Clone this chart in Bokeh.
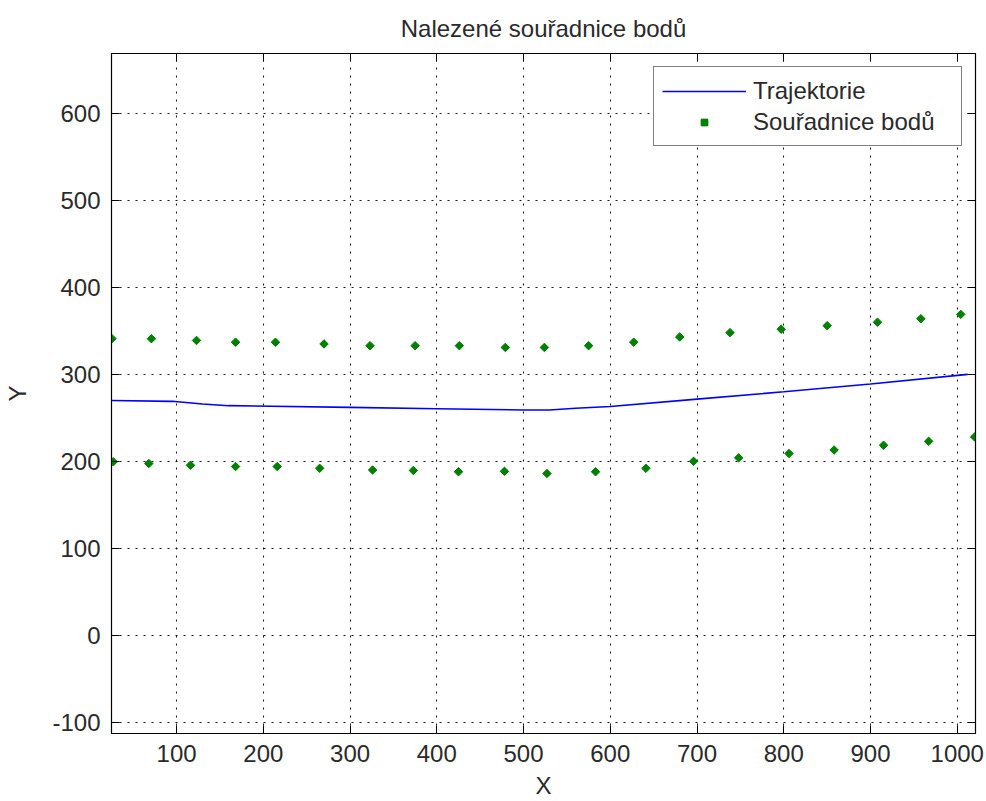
import math
from bokeh.plotting import figure
from bokeh.models import (Range1d, LinearAxis, FixedTicker, Legend, LegendItem,
                          PrintfTickFormatter)
from bokeh.embed import file_html
from bokeh.resources import INLINE

# Trajectory (blue line)
traj_x = [25, 95, 130, 160, 300, 400, 500, 530, 560, 600, 700, 800, 900, 1012]
traj_y = [270, 269, 266, 264, 262, 260.5, 259, 259, 261, 263, 271.5, 280, 289, 300]

# Detected point coordinates, upper row
upper_x = [25.6, 71, 123, 168, 214, 270, 323, 375, 426, 479, 524, 575, 627, 680, 738, 797, 850, 908, 958, 1004]
upper_y = [341, 341, 339, 337, 337, 335, 333, 333, 333, 331, 331, 333, 337, 343, 348, 352, 356, 360, 364, 369]

# Detected point coordinates, lower row
lower_x = [27, 68, 116, 168, 216, 265, 326, 373, 425, 478, 527, 583, 641, 696, 748, 806, 858, 915, 967, 1020]
lower_y = [199.5, 197.5, 195.5, 194, 194, 192, 190, 189.5, 188, 188.5, 186, 188, 192, 200, 204, 209, 213, 218.5, 223, 228]

x_ticks = [100, 200, 300, 400, 500, 600, 700, 800, 900, 1000]
y_ticks = [-100, 0, 100, 200, 300, 400, 500, 600]

FONT = "Liberation Sans"
TXT = "#2a2a2a"
GREEN = "#008000"

p = figure(
    frame_width=864, frame_height=680,
    x_range=Range1d(25, 1021), y_range=Range1d(-113, 669),
    output_backend="svg", toolbar_location=None,
    min_border_left=111, min_border_right=11,
    min_border_top=53, min_border_bottom=68,
    title="Nalezené souřadnice bodů",
)
p.background_fill_color = "white"
p.border_fill_color = "white"
p.outline_line_color = "black"
p.outline_line_width = 1.2

p.title.text_font = FONT
p.title.text_font_size = "24px"
p.title.text_font_style = "normal"
p.title.text_color = TXT
p.title.align = "center"
p.title.standoff = 23

for ax in (p.xaxis[0], p.yaxis[0]):
    ax.major_label_text_font = FONT
    ax.major_label_text_font_size = "24px"
    ax.major_label_text_color = TXT
    ax.axis_label_text_font = FONT
    ax.axis_label_text_font_size = "24px"
    ax.axis_label_text_font_style = "normal"
    ax.axis_label_text_color = TXT
    ax.major_tick_in = 8
    ax.major_tick_out = 0
    ax.minor_tick_line_color = None
    ax.axis_line_color = "black"
    ax.major_tick_line_color = "black"
    ax.formatter = PrintfTickFormatter(format="%d")

p.xaxis[0].ticker = FixedTicker(ticks=x_ticks)
p.yaxis[0].ticker = FixedTicker(ticks=y_ticks)
p.xaxis[0].axis_label = "X"
p.yaxis[0].axis_label = "Y"
p.xaxis[0].major_label_standoff = 11
p.xaxis[0].axis_label_standoff = 7
p.yaxis[0].major_label_standoff = 11
p.yaxis[0].axis_label_standoff = 18

# Box ticks on the top and right edges (drawn as unlabeled minor ticks)
for loc, ticks in (("above", x_ticks), ("right", y_ticks)):
    ax = LinearAxis(ticker=FixedTicker(ticks=[], minor_ticks=ticks))
    ax.major_label_standoff = 0
    ax.major_tick_line_color = None
    ax.minor_tick_in = 8
    ax.minor_tick_out = 0
    ax.minor_tick_line_color = "black"
    ax.axis_line_color = "black"
    p.add_layout(ax, loc)

p.xgrid.ticker = FixedTicker(ticks=x_ticks)
p.ygrid.ticker = FixedTicker(ticks=y_ticks)
for g in (p.xgrid[0], p.ygrid[0]):
    g.grid_line_color = "black"
    g.grid_line_dash = "2 6"
    g.grid_line_width = 1.1
    g.grid_line_alpha = 0.9

traj = p.line(traj_x, traj_y, line_color="#0000ff", line_width=1.6)
up = p.scatter(upper_x, upper_y, marker="square", size=6, angle=math.pi / 4,
               fill_color=GREEN, line_color=GREEN)
lo = p.scatter(lower_x, lower_y, marker="square", size=6, angle=math.pi / 4,
               fill_color=GREEN, line_color=GREEN)

legend = Legend(items=[
    LegendItem(label="Trajektorie", renderers=[traj]),
    LegendItem(label="Souřadnice bodů", renderers=[up, lo]),
], location="top_right")
legend.margin = 13
legend.padding = 8
legend.spacing = 0
legend.glyph_width = 84
legend.glyph_height = 16
legend.label_height = 31
legend.label_width = 200
legend.label_standoff = 7
legend.label_text_font = FONT
legend.label_text_font_size = "24px"
legend.label_text_color = TXT
legend.border_line_color = "black"
legend.border_line_width = 1.2
legend.background_fill_color = "white"
legend.background_fill_alpha = 1
p.add_layout(legend)

open("out.html", "w").write(file_html(p, INLINE))
